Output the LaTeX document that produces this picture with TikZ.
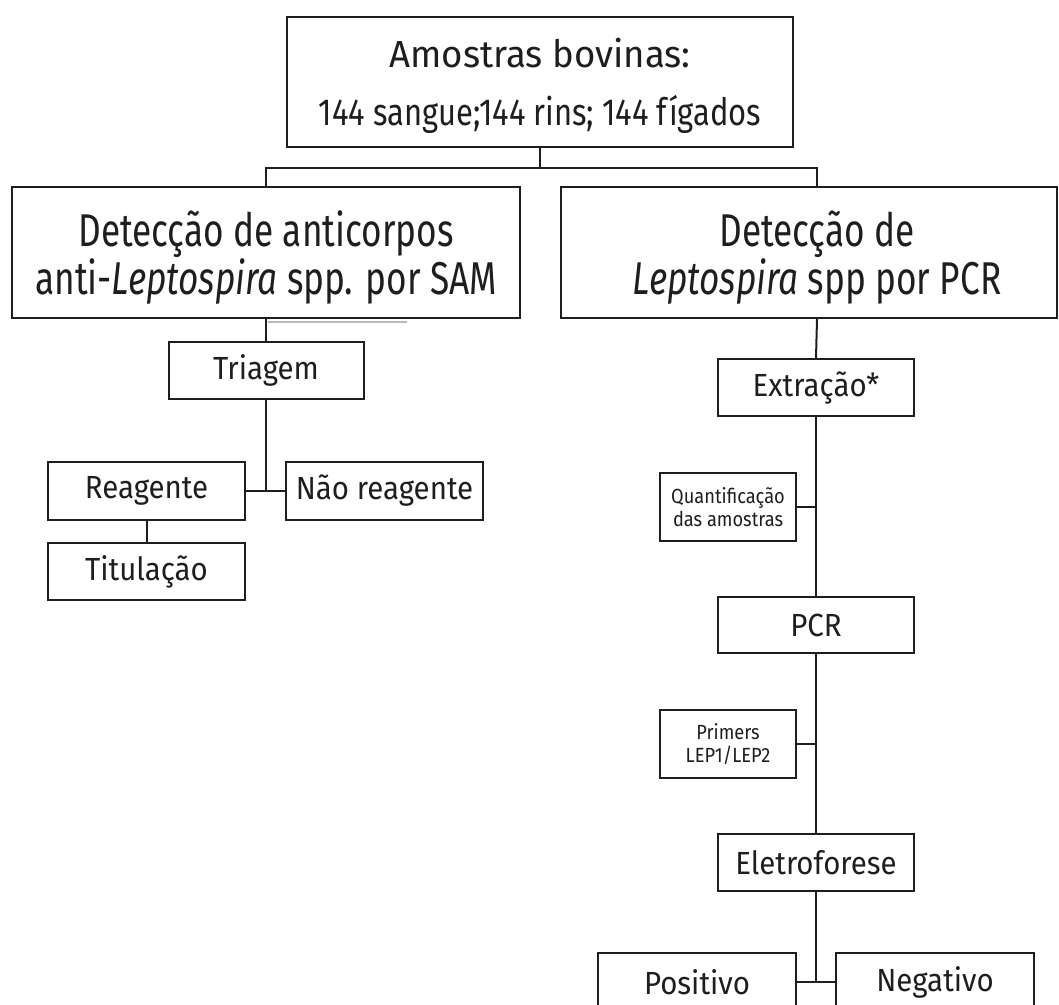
\documentclass[tikz,border=0pt]{standalone}
\usepackage{fontspec}
\newfontfamily\dintopA[FakeStretch=0.97]{Fira Sans}
\newfontfamily\dintopB[FakeStretch=0.82]{Fira Sans}
\newfontfamily\dinhead[FakeStretch=0.765]{Fira Sans}
\newfontfamily\dinmid[FakeStretch=0.92]{Fira Sans}
\newfontfamily\dinsmall[FakeStretch=0.89]{Fira Sans}
\begin{document}
\begin{tikzpicture}[x=1pt,y=-1pt,
  box/.style={draw=ink, line width=2pt, inner sep=0pt, align=center, text=ink},
  big/.style={font={\dintopB\fontsize{37.7}{58}\selectfont}},
  head/.style={font={\dinhead\fontsize{46}{45.5}\selectfont}},
  mid/.style={font={\dinmid\fontsize{32}{36}\selectfont}},
  small/.style={font={\dinsmall\fontsize{20.5}{23}\selectfont}},
  conn/.style={draw=ink, line width=2pt}]
\definecolor{ink}{HTML}{1E1E1E}
\useasboundingbox (0,0) rectangle (1059,1004);
\clip (0,0) rectangle (1059,1004);
\fill[white] (0,0) rectangle (1059,1004);

\node[box,big,minimum width=506pt,minimum height=130pt,text depth=-5pt] (top) at (540,82)
  {{\dintopA Amostras bovinas:}\\{\dintopB 144 sangue;144 rins; 144 fígados}};
\node[box,head,minimum width=508pt,minimum height=131pt,text depth=0pt] (L) at (266,252.5)
  {Detecção de anticorpos\\anti-\textit{Leptospira} spp. por SAM};
\node[box,head,minimum width=496pt,minimum height=131pt,text depth=0pt] (R) at (809,252.5)
  {\hspace*{16pt}Detecção de\\\hspace*{16pt}\textit{Leptospira} spp por PCR};

\node[box,mid,minimum width=195pt,minimum height=57pt] (tri) at (266,370.5) {Triagem};
\node[box,mid,minimum width=197pt,minimum height=58pt] (reag) at (146.5,491) {Reagente};
\node[box,mid,minimum width=197pt,minimum height=58pt] (nreag) at (384.5,491) {Não reagente};
\node[box,mid,minimum width=197pt,minimum height=57pt] (tit) at (146.5,571.5) {Titulação};

\node[box,mid,minimum width=196pt,minimum height=57pt] (ext) at (816,387.5) {Extração*};
\node[box,small,minimum width=136pt,minimum height=68pt] (quant) at (728,507) {Quantificação\\das amostras};
\node[box,mid,minimum width=196pt,minimum height=56pt] (pcr) at (816,625) {PCR};
\node[box,small,minimum width=136pt,minimum height=68pt] (prim) at (728,744) {Primers\\LEP1/LEP2};
\node[box,mid,minimum width=196pt,minimum height=57pt] (ele) at (816,862.5) {Eletroforese};
\node[box,mid,minimum width=198pt,minimum height=58pt] (pos) at (697,982) {Positivo};
\node[box,mid,minimum width=198pt,minimum height=58pt] (neg) at (935,982) {Negativo};

\coordinate (j1) at (540,168);
\draw[conn] (top.south) -- (j1);
\draw[conn] (L.north) |- (j1) -| ([xshift=8pt]R.north);

\draw[conn] (L.south) -- (tri.north);
\draw[draw=black!28, line width=2pt] ([xshift=2pt,yshift=-3pt]L.south) -- ([xshift=141pt,yshift=-3pt]L.south);
\draw[conn] (tri.south) -- (tri.south |- reag.east);
\draw[conn] (reag.east) -- (nreag.west);
\draw[conn] (reag.south) -- (tit.north);

\draw[conn] ([xshift=8pt]R.south) -- (ext.north);
\draw[conn] (ext.south) -- (pcr.north);
\draw[conn] (quant.east) -- (quant.east -| ext.south);
\draw[conn] (pcr.south) -- (ele.north);
\draw[conn] (prim.east) -- (prim.east -| pcr.south);
\draw[conn] (ele.south) -- (ele.south |- pos.east);
\draw[conn] (pos.east) -- (neg.west);
\end{tikzpicture}
\end{document}
